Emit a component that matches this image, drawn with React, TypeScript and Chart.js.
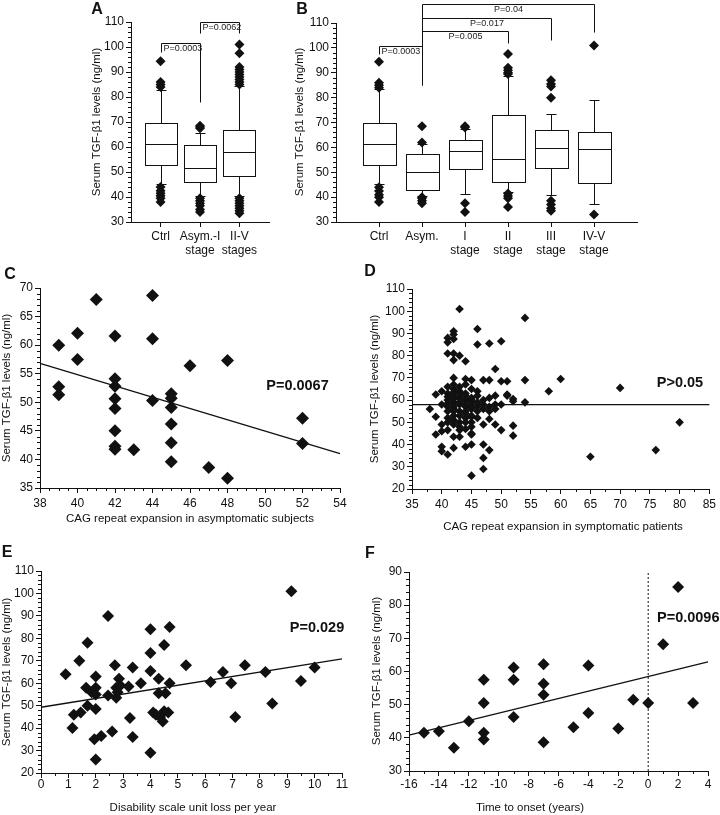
import { useEffect, useRef } from 'react';
import { Chart, registerables } from 'chart.js';

Chart.register(...registerables);

const FONT = '"Liberation Sans", Arial, Helvetica, sans-serif';
const INK = '#111';
Chart.defaults.font.family = FONT;
Chart.defaults.color = INK;

const Y_TITLE = 'Serum TGF-\u03B21 levels (ng/ml)';

// ---------- Panel A (box plot) ----------
const A_CATS = [['Ctrl'], ['Asym.-I', 'stage'], ['II-V', 'stages']];
const A_Q1 = [53, 46, 48.5];
const A_MED = [61.2, 51.7, 58];
const A_Q3 = [69.6, 61, 66.8];
const A_WLO = [45.2, 40.5, 40.5];
const A_WHI = [83, 65.5, 84.5];
const A_OUT = [
  [94.3, 86, 85, 84, 44, 42.5, 41.5, 40.5, 39.5, 38],
  [68.5, 68, 67.5, 39.5, 38.5, 37.5, 36.5, 35, 34],
  [101, 97.5, 92, 91, 90, 89, 88, 87, 86, 85, 39.5, 38.5, 37.5, 36.5, 35.5, 34.5, 33.5],
];

// ---------- Panel B (box plot) ----------
const B_CATS = [['Ctrl'], ['Asym.'], ['I', 'stage'], ['II', 'stage'], ['III', 'stage'], ['IV-V', 'stage']];
const B_Q1 = [53, 42.7, 51.2, 46.1, 51.6, 45.5];
const B_MED = [61.3, 50.3, 58.4, 55.4, 59.6, 59.2];
const B_Q3 = [69.8, 57.2, 63, 73.1, 67, 66.3];
const B_WLO = [45.1, 40.5, 41.2, 42, 40.8, 37.4];
const B_WHI = [83.4, 61.5, 67.5, 88.8, 73.5, 79];
const B_OUT = [
  [94.4, 86, 85, 84, 44, 42.5, 41, 40, 38],
  [68.5, 62, 40, 39.5, 38.5, 37.5],
  [68.5, 68, 37.5, 34],
  [97.5, 92, 91, 90, 89.5, 41.5, 40.5, 39.5, 36],
  [87, 85.5, 84.5, 80, 38.5, 37, 35.5, 34.5],
  [101, 33],
];

// ---------- Panel C ----------
const C_POINTS: [number, number][] = [
  [39, 60], [39, 52.7], [39, 51.3], [40, 62.1], [40, 57.5], [41, 68],
  [42, 61.6], [42, 54.1], [42, 52.8], [42, 50.6], [42, 48.9], [42, 45], [42, 42.3], [42, 41.8],
  [43, 41.7], [44, 68.7], [44, 61.1], [44, 50.3],
  [45, 51.5], [45, 50.7], [45, 49.1], [45, 46.2], [45, 42.9], [45, 39.6],
  [46, 56.4], [47, 38.6], [48, 57.3], [48, 36.7], [52, 47.2], [52, 42.8],
];
const C_FIT: [number, number][] = [[38, 56.8], [54, 41]];

// ---------- Panel D ----------
const D_POINTS: [number, number][] = [
  [43, 101], [54, 97], [42, 91], [41, 88], [42, 87.5], [41, 86], [42, 89.5], [46, 92], [46, 85],
  [48, 85.5], [50, 86.5], [41, 81], [42, 81], [43, 80], [42, 78], [44, 77.5], [49, 74],
  [42, 70], [44, 69.5], [45, 69], [47, 69], [48, 69], [50, 68.5], [51, 68.5], [54, 69],
  [58, 64], [60, 69.5], [70, 65.5], [51, 62.5], [52, 60.5], [54, 59],
  [65, 34.5], [76, 37.5], [80, 50],
  [39, 52.5], [40, 49], [39, 44.5], [40, 46], [40, 39], [40, 37], [41, 35.5], [42, 38.5],
  [41, 46.5], [42, 43.5], [43, 46.5], [43, 43.5], [44, 39], [45, 40], [45, 44.5], [45, 52.5],
  [47, 49], [47, 40], [47, 34], [47, 29], [45, 26], [48, 37.5], [48, 51.5], [49, 49], [50, 46.5],
  [52, 48.5], [52, 44], [38, 56], [39, 62.5], [40, 64], [40, 58], [50, 58], [49, 62], [51, 62], [52, 59.5],
  [41, 66], [41, 63], [41, 60], [41, 57], [41, 55], [41, 52], [41, 50], [41, 61.5], [41, 58.5],
  [42, 67], [42, 65], [42, 62], [42, 59], [42, 57], [42, 55], [42, 53], [42, 51], [42, 49], [42, 63.5], [42, 60.5], [42, 56],
  [43, 66], [43, 61], [43, 58], [43, 55], [43, 50], [43, 48], [43, 64], [43, 59], [43, 53], [43, 63],
  [44, 67], [44, 63], [44, 60], [44, 57], [44, 55], [44, 52], [44, 50], [44, 47], [44, 62], [44, 58], [44, 54],
  [45, 65], [45, 61], [45, 59], [45, 56], [45, 53], [45, 50], [45, 48], [45, 45], [45, 60], [45, 57],
  [46, 64], [46, 62], [46, 59], [46, 57], [46, 55], [46, 52],
  [47, 60], [47, 58], [47, 56], [48, 61], [48, 57], [48, 55], [49, 58], [49, 56],
];
const D_FIT: [number, number][] = [[35, 58], [85, 58]];

// ---------- Panel E ----------
const E_POINTS: [number, number][] = [
  [0.9, 64], [1.15, 40], [1.2, 46], [1.4, 70], [1.45, 47], [1.7, 78], [1.65, 58], [1.7, 50], [1.85, 56],
  [2, 63], [2, 58], [2, 55], [2, 48.5], [1.95, 35], [2, 26], [2.2, 36.5], [2.45, 54.5], [2.45, 90],
  [2.6, 38.5], [2.7, 68], [2.75, 58], [2.75, 53.5], [2.8, 56], [2.85, 62], [2.9, 59], [3.2, 58.5],
  [3.25, 44.5], [3.35, 67], [3.35, 36], [3.65, 60], [4, 84], [4, 73.5], [4, 65.5], [4, 29],
  [4.1, 47], [4.2, 46], [4.3, 62], [4.3, 55.5], [4.35, 45], [4.45, 43], [4.5, 77], [4.5, 47.5],
  [4.55, 55.5], [4.65, 47], [4.7, 85], [4.7, 60], [5.3, 68], [6.2, 60.5], [6.65, 65], [6.95, 60],
  [7.1, 45], [7.45, 68], [8.2, 65], [8.45, 51], [9.5, 61], [10, 67], [9.15, 101],
];
const E_FIT: [number, number][] = [[0, 49.3], [11, 70.8]];

// ---------- Panel F ----------
const F_POINTS: [number, number][] = [
  [-15, 41.5], [-14, 42], [-13, 37], [-12, 45], [-11, 57.5], [-11, 50.5], [-11, 41.5], [-11, 39.5],
  [-9, 61.2], [-9, 57.5], [-9, 46.3], [-7, 62.2], [-7, 56.3], [-7, 53], [-7, 38.7], [-5, 43.2],
  [-4, 61.8], [-4, 47.5], [-2, 42.8], [-1, 51.5], [0, 50.5], [1, 68.2], [2, 85.5], [3, 50.5],
];
const F_FIT: [number, number][] = [[-16, 40.8], [4, 62.9]];
const F_ONSET: [number, number][] = [[0, 30], [0, 90]];

// ---------- helpers ----------
type Axis = { min: number; max: number; step?: number; minor?: number; cats?: string[][]; pad?: number };
type Txt = { t: string; x: number; y: number; size: number; bold?: boolean; rot?: boolean; align?: CanvasTextAlign };
type Bracket = { x1: number; x2: number; y: number; y1: number; y2: number; text: string; align: 'left' | 'center' };
type Boxes = { q1: number[]; med: number[]; q3: number[]; lo: number[]; hi: number[]; w: number; cap: number };
type Panel = {
  canvas: [number, number, number, number];
  plot: [number, number, number, number];
  x: Axis;
  y: Axis;
  datasets: any[];
  boxes?: Boxes;
  brackets?: Bracket[];
  texts: Txt[];
};

const pts = (arr: [number, number][]) => arr.map(([x, y]) => ({ x, y }));
const scatterDs = (arr: [number, number][], r: number) => ({
  data: pts(arr),
  pointStyle: 'rectRot',
  pointRadius: r,
  pointHoverRadius: r,
  backgroundColor: INK,
  borderColor: INK,
  borderWidth: 0,
  showLine: false,
  clip: false,
});
const lineDs = (arr: [number, number][], width = 1.3, dash: number[] = []) => ({
  data: pts(arr),
  showLine: true,
  pointRadius: 0,
  pointHoverRadius: 0,
  borderColor: INK,
  borderWidth: width,
  borderDash: dash,
  fill: false,
  clip: false,
});
const outlierDs = (groups: number[][], r: number) =>
  scatterDs(groups.flatMap((g, i) => g.map((v) => [i, v] as [number, number])), r);

const A_BRACKETS: Bracket[] = [
  { x1: 0, x2: 1, y: 101.6, y1: 98, y2: 78, text: 'P=0.0003', align: 'left' },
  { x1: 1, x2: 2, y: 110, y1: 105.5, y2: 105.5, text: 'P=0.0062', align: 'left' },
];
const B_BRACKETS: Bracket[] = [
  { x1: 0, x2: 1, y: 100.8, y1: 97.5, y2: 85, text: 'P=0.0003', align: 'left' },
  { x1: 1, x2: 3, y: 106.9, y1: 106.9, y2: 102, text: 'P=0.005', align: 'center' },
  { x1: 1, x2: 4, y: 112.1, y1: 112.1, y2: 103, text: 'P=0.017', align: 'center' },
  { x1: 1, x2: 5, y: 117.7, y1: 85, y2: 106.2, text: 'P=0.04', align: 'center' },
];

const PANELS: Panel[] = [
  {
    canvas: [0, 0, 280, 262],
    plot: [131, 22, 269, 222],
    x: { min: -0.75, max: 2.75, cats: A_CATS, pad: 3 },
    y: { min: 30, max: 110, step: 10, minor: 2 },
    datasets: [outlierDs(A_OUT, 5)],
    boxes: { q1: A_Q1, med: A_MED, q3: A_Q3, lo: A_WLO, hi: A_WHI, w: 32, cap: 10 },
    brackets: A_BRACKETS,
    texts: [
      { t: 'A', x: 97, y: 10, size: 16, bold: true },
      { t: Y_TITLE, x: 97, y: 122, size: 11.5, rot: true },
    ],
  },
  {
    canvas: [280, 0, 440, 262],
    plot: [336, 23, 637, 222],
    x: { min: -1, max: 6, cats: B_CATS, pad: 3 },
    y: { min: 30, max: 110, step: 10, minor: 2 },
    datasets: [outlierDs(B_OUT, 5)],
    boxes: { q1: B_Q1, med: B_MED, q3: B_Q3, lo: B_WLO, hi: B_WHI, w: 33, cap: 10 },
    brackets: B_BRACKETS,
    texts: [
      { t: 'B', x: 302, y: 10, size: 16, bold: true },
      { t: Y_TITLE, x: 300, y: 122, size: 11.5, rot: true },
    ],
  },
  {
    canvas: [0, 262, 360, 278],
    plot: [40, 288, 340, 488],
    x: { min: 38, max: 54, step: 2, minor: 0.5, pad: 4 },
    y: { min: 35, max: 70, step: 5, minor: 1 },
    datasets: [lineDs(C_FIT), scatterDs(C_POINTS, 6.5)],
    texts: [
      { t: 'C', x: 10, y: 275, size: 16, bold: true },
      { t: Y_TITLE, x: 7, y: 388, size: 11.5, rot: true },
      { t: 'CAG repeat expansion in asymptomatic subjects', x: 190, y: 519, size: 11.5 },
      { t: 'P=0.0067', x: 297.5, y: 386, size: 14.5, bold: true },
    ],
  },
  {
    canvas: [360, 262, 360, 278],
    plot: [412, 289, 713, 489],
    x: { min: 35, max: 85, step: 5, minor: 2.5, pad: 4 },
    y: { min: 20, max: 110, step: 10, minor: 2 },
    datasets: [lineDs(D_FIT), scatterDs(D_POINTS, 4.3)],
    texts: [
      { t: 'D', x: 370, y: 272, size: 16, bold: true },
      { t: Y_TITLE, x: 375, y: 389, size: 11.5, rot: true },
      { t: 'CAG repeat expansion in symptomatic patients', x: 563, y: 527, size: 11.5 },
      { t: 'P>0.05', x: 680, y: 383, size: 14.5, bold: true },
    ],
  },
  {
    canvas: [0, 540, 360, 275],
    plot: [41, 571, 342, 773],
    x: { min: 0, max: 11, step: 1, minor: 0.5, pad: 0 },
    y: { min: 20, max: 110, step: 10, minor: 2 },
    datasets: [lineDs(E_FIT), scatterDs(E_POINTS, 6)],
    texts: [
      { t: 'E', x: 7, y: 553, size: 16, bold: true },
      { t: Y_TITLE, x: 7, y: 672, size: 11.5, rot: true },
      { t: 'Disability scale unit loss per year', x: 193, y: 808, size: 11.5 },
      { t: 'P=0.029', x: 317, y: 628, size: 14.5, bold: true },
    ],
  },
  {
    canvas: [360, 540, 360, 275],
    plot: [409, 572, 708, 771],
    x: { min: -16, max: 4, step: 2, minor: 1, pad: 2 },
    y: { min: 30, max: 90, step: 10, minor: 2 },
    datasets: [lineDs(F_FIT), lineDs(F_ONSET, 1, [2, 2]), scatterDs(F_POINTS, 6)],
    texts: [
      { t: 'F', x: 370, y: 554, size: 16, bold: true },
      { t: Y_TITLE, x: 377, y: 671, size: 11.5, rot: true },
      { t: 'Time to onset (years)', x: 530, y: 808, size: 11.5 },
      { t: 'P=0.0096', x: 657, y: 618, size: 14.5, bold: true, align: 'left' },
    ],
  },
];

function makePlugin(p: Panel) {
  const [cx, cy] = p.canvas;
  const h = (v: number) => Math.round(v) + 0.5;
  return {
    id: 'deco',
    beforeDatasetsDraw(chart: any) {
      if (!p.boxes) return;
      const { ctx, scales } = chart;
      const xs = scales.x;
      const ys = scales.y;
      const b = p.boxes;
      ctx.save();
      ctx.strokeStyle = INK;
      ctx.lineWidth = 1;
      b.q1.forEach((_, i) => {
        const x = xs.getPixelForValue(i);
        const yq1 = h(ys.getPixelForValue(b.q1[i]));
        const yq3 = h(ys.getPixelForValue(b.q3[i]));
        const ymed = h(ys.getPixelForValue(b.med[i]));
        const ylo = h(ys.getPixelForValue(b.lo[i]));
        const yhi = h(ys.getPixelForValue(b.hi[i]));
        const xl = h(x - b.w / 2);
        const xr = h(x + b.w / 2);
        const xc = h(x);
        ctx.beginPath();
        ctx.moveTo(xc, yq3); ctx.lineTo(xc, yhi);
        ctx.moveTo(h(x - b.cap / 2), yhi); ctx.lineTo(h(x + b.cap / 2), yhi);
        ctx.moveTo(xc, yq1); ctx.lineTo(xc, ylo);
        ctx.moveTo(h(x - b.cap / 2), ylo); ctx.lineTo(h(x + b.cap / 2), ylo);
        ctx.stroke();
        ctx.fillStyle = '#fff';
        ctx.fillRect(xl, yq3, xr - xl, yq1 - yq3);
        ctx.strokeRect(xl, yq3, xr - xl, yq1 - yq3);
        ctx.beginPath();
        ctx.moveTo(xl, ymed); ctx.lineTo(xr, ymed);
        ctx.stroke();
      });
      ctx.restore();
    },
    afterDraw(chart: any) {
      const { ctx, scales } = chart;
      const xs = scales.x;
      const ys = scales.y;
      ctx.save();
      ctx.strokeStyle = INK;
      ctx.lineWidth = 1;
      // minor ticks
      const minorTicks = (ax: Axis, horiz: boolean) => {
        if (!ax.minor || !ax.step) return;
        const n = Math.round((ax.max - ax.min) / ax.minor);
        ctx.beginPath();
        for (let i = 0; i <= n; i++) {
          const v = ax.min + i * ax.minor;
          const r = (v - ax.min) / ax.step;
          if (Math.abs(r - Math.round(r)) < 1e-6) continue;
          if (horiz) {
            const px = h(xs.getPixelForValue(v));
            ctx.moveTo(px, xs.top);
            ctx.lineTo(px, xs.top + 3);
          } else {
            const py = h(ys.getPixelForValue(v));
            ctx.moveTo(ys.right, py);
            ctx.lineTo(ys.right - 3, py);
          }
        }
        ctx.stroke();
      };
      minorTicks(p.x, true);
      minorTicks(p.y, false);
      // brackets
      if (p.brackets) {
        ctx.font = `9px ${FONT}`;
        ctx.fillStyle = '#222';
        ctx.textBaseline = 'middle';
        p.brackets.forEach((br) => {
          const x1 = h(xs.getPixelForValue(br.x1));
          const x2 = h(xs.getPixelForValue(br.x2));
          const y = h(ys.getPixelForValue(br.y));
          const y1 = h(ys.getPixelForValue(br.y1));
          const y2 = h(ys.getPixelForValue(br.y2));
          ctx.beginPath();
          ctx.moveTo(x1, y1); ctx.lineTo(x1, y); ctx.lineTo(x2, y); ctx.lineTo(x2, y2);
          ctx.stroke();
          if (br.align === 'left') {
            ctx.textAlign = 'left';
            ctx.fillText(br.text, x1 + 2, y + 5.5);
          } else {
            ctx.textAlign = 'center';
            ctx.fillText(br.text, (x1 + x2) / 2, y + 5.5);
          }
        });
      }
      // texts
      p.texts.forEach((t) => {
        ctx.save();
        ctx.fillStyle = INK;
        ctx.font = `${t.bold ? 'bold ' : ''}${t.size}px ${FONT}`;
        ctx.textAlign = t.align || 'center';
        ctx.textBaseline = 'middle';
        ctx.translate(t.x - cx, t.y - cy);
        if (t.rot) ctx.rotate(-Math.PI / 2);
        ctx.fillText(t.t, 0, 0);
        ctx.restore();
      });
      ctx.restore();
    },
  };
}

function buildConfig(p: Panel) {
  const [cx, cy, cw, ch] = p.canvas;
  const [pl, pt, pr, pb] = p.plot;
  const yW = pl - cx;
  const xH = cy + ch - pb;
  const cats = p.x.cats;
  const grid = { drawOnChartArea: false, drawTicks: true, tickLength: 5, color: INK, tickColor: INK, lineWidth: 1 };
  const border = { display: true, color: INK, width: 1 };
  return {
    type: 'scatter',
    data: { datasets: p.datasets },
    options: {
      responsive: false,
      maintainAspectRatio: false,
      animation: false,
      devicePixelRatio: 1,
      events: [],
      layout: { autoPadding: false, padding: { left: 0, top: pt - cy, right: cx + cw - pr, bottom: 0 } },
      plugins: { legend: { display: false }, tooltip: { enabled: false }, title: { display: false } },
      scales: {
        x: {
          type: 'linear',
          position: 'bottom',
          min: p.x.min,
          max: p.x.max,
          afterFit: (s: any) => { s.height = xH; },
          afterBuildTicks: cats
            ? (s: any) => { s.ticks = cats.map((_, i) => ({ value: i })); }
            : undefined,
          ticks: {
            stepSize: p.x.step,
            autoSkip: false,
            maxRotation: 0,
            minRotation: 0,
            maxTicksLimit: 1000,
            padding: p.x.pad ?? 3,
            color: INK,
            font: { size: 12, lineHeight: 1.17 },
            callback: cats ? (v: number) => cats[Math.round(v)] : (v: number) => String(v),
          },
          grid,
          border,
        },
        y: {
          type: 'linear',
          position: 'left',
          min: p.y.min,
          max: p.y.max,
          afterFit: (s: any) => { s.width = yW; },
          ticks: {
            stepSize: p.y.step,
            autoSkip: false,
            maxTicksLimit: 1000,
            padding: 2,
            color: INK,
            font: { size: 12 },
            callback: (v: number) => String(v),
          },
          grid,
          border,
        },
      },
    },
    plugins: [makePlugin(p)],
  };
}

function ChartPanel({ p }: { p: Panel }) {
  const ref = useRef<HTMLCanvasElement>(null);
  useEffect(() => {
    if (!ref.current) return;
    const chart = new Chart(ref.current, buildConfig(p) as any);
    return () => chart.destroy();
  }, [p]);
  const [x, y, w, h] = p.canvas;
  return (
    <canvas
      ref={ref}
      width={w}
      height={h}
      style={{ position: 'absolute', left: x, top: y, width: w, height: h }}
    />
  );
}

export default function App() {
  return (
    <div
      style={{
        position: 'absolute',
        left: 0,
        top: 0,
        width: 720,
        height: 815,
        background: '#fff',
        overflow: 'hidden',
      }}
    >
      {PANELS.map((p, i) => (
        <ChartPanel key={i} p={p} />
      ))}
    </div>
  );
}
